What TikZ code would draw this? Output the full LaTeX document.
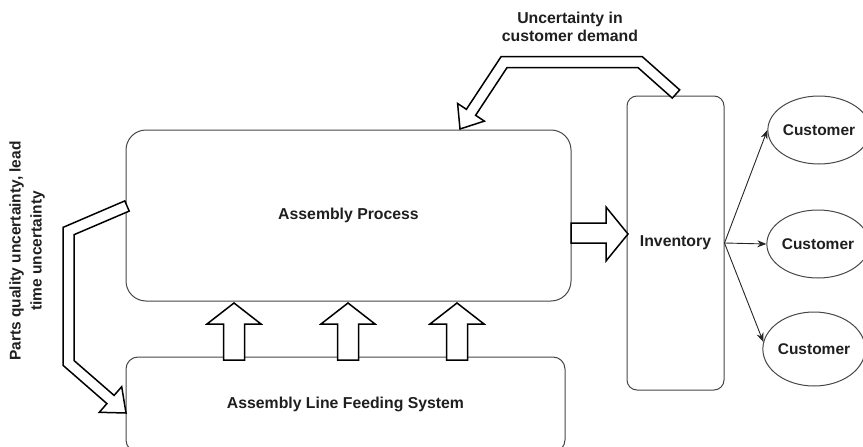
\documentclass[tikz,border=0pt]{standalone}
\usepackage{fontspec}
\setmainfont{Liberation Sans}
\usetikzlibrary{arrows.meta,shapes.geometric}
\begin{document}
\begin{tikzpicture}[x=1pt,y=-1pt,
  lbl/.style={font=\fontsize{15.8}{18}\selectfont\bfseries, text=black!88, inner sep=0pt},
  procbox/.style={draw=black!72, line width=1pt, fill=white, align=center,
    font=\fontsize{15.8}{18}\selectfont\bfseries, text=black!88, inner sep=0pt},
  custnode/.style={ellipse, draw=black!72, line width=1pt, fill=white,
    font=\fontsize{15.5}{18}\selectfont\bfseries, text=black!88, inner sep=0pt},
  conn/.style={draw=black!85, line width=0.9pt, -{Stealth[length=9pt,width=7pt]}},
  blk/.style={draw=black, line width=1.5pt, fill=white, line join=miter}]

\useasboundingbox (0,0) rectangle (863,447);
\clip (0,0) rectangle (863,447);

% main process blocks
\node[procbox, rounded corners=20pt, minimum width=445pt, minimum height=171pt]
  (ap) at (348.5,215.5) {Assembly Process};
\node[procbox, rounded corners=12pt, minimum width=439pt, minimum height=95pt]
  (feed) at (345.5,404.5) {Assembly Line Feeding System};
\node[procbox, rounded corners=10pt, minimum width=97pt, minimum height=294pt]
  (inv) at (675.5,243) {Inventory};

% customers
\node[custnode, minimum width=94pt, minimum height=68pt] (c1) at (819,130) {Customer};
\node[custnode, minimum width=96pt, minimum height=68pt] (c2) at (818,244) {Customer};
\node[custnode, minimum width=102pt, minimum height=74pt] (c3) at (814,349) {Customer};

\draw[conn] (inv.east) -- (c1.west);
\draw[conn] (inv.east) -- (c2.west);
\draw[conn] (inv.east) -- (c3.172);

% material flow: feeding system -> assembly process
\foreach \xc in {234,348,457}{
  \draw[blk] (\xc-10.5,360) -- (\xc-10.5,324) -- (\xc-27,324) -- (\xc,303)
    -- (\xc+27,324) -- (\xc+10.5,324) -- (\xc+10.5,360) -- cycle;
}

% assembly process -> inventory
\draw[blk] (571,223) -- (606,223) -- (606,207) -- (628,234) -- (606,261)
  -- (606,243) -- (571,243) -- cycle;

% demand feedback: inventory -> assembly process
\draw[blk] (679.7,89.9) -- (642.1,56.5) -- (501.2,56.5) -- (466.4,109.3)
  -- (457.6,103.5) -- (460,129) -- (484.4,121.1) -- (475.6,115.3)
  -- (507.1,67.5) -- (637.9,67.5) -- (672.3,98.1) -- cycle;

% supply feedback: assembly process -> feeding system
\draw[blk] (124.8,200.9) -- (63,227.4) -- (63,365.3) -- (106.9,403.6)
  -- (99.3,412.3) -- (126,413) -- (121.7,386.7) -- (114.1,395.4)
  -- (74,360.5) -- (74,234.7) -- (129.2,211.1) -- cycle;

% labels
\node[lbl, align=center] (demand) at (570,27) {Uncertainty in\\customer demand};
\node[lbl, align=center, rotate=90, font=\fontsize{15.5}{21}\selectfont\bfseries]
  (parts) at (27,251) {Parts quality uncertainty, lead\\time uncertainty};
\end{tikzpicture}
\end{document}
